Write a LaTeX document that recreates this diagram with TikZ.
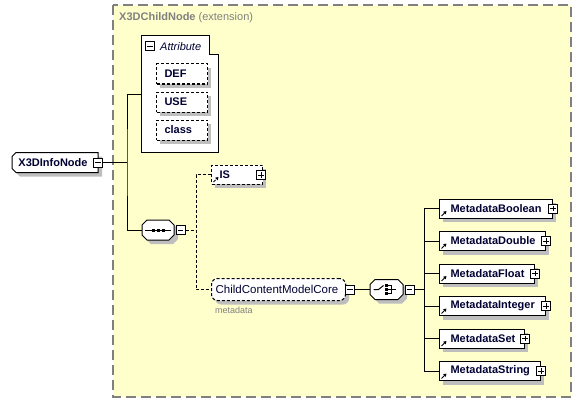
\documentclass[tikz,border=0pt]{standalone}
\usepackage{fontspec}
\setmainfont{Liberation Sans}
\usetikzlibrary{arrows.meta}
\definecolor{extfill}{HTML}{FFFFCC}
\definecolor{extline}{HTML}{808080}
\definecolor{txt}{HTML}{000033}
\definecolor{graytxt}{HTML}{808080}
\definecolor{shadowgray}{RGB}{190,190,190}
% octagon path: x1 y1 x2 y2 c
\newcommand\octpath[5]{(#1+#5,#2) -- (#3-#5,#2) -- (#3,#2+#5) -- (#3,#4-#5) -- (#3-#5,#4) -- (#1+#5,#4) -- (#1,#4-#5) -- (#1,#2+#5) -- cycle}
\newcommand\leftchamfpath[5]{(#1+#5,#2) -- (#3,#2) -- (#3,#4) -- (#1+#5,#4) -- (#1,#4-#5) -- (#1,#2+#5) -- cycle}
% shadow rectangle offset by 4 right and 4 down: x1 y1 x2 y2
\newcommand\shadowrect[4]{\fill[shadowgray] (#1+4,#2+4) rectangle (#3+4,#4+4);}
\tikzset{
  boldfont/.style={font=\fontsize{11}{13}\selectfont\bfseries, text=txt},
  plainfont/.style={font=\fontsize{11.5}{13}\selectfont, text=txt},
  elembox/.style={draw, fill=white, line width=1pt, minimum height=19, inner ysep=0, anchor=west, boldfont, align=left, inner xsep=11},
  refglyph/.style={path picture={\draw[line width=1pt,-{Triangle[length=3pt,width=3.5pt]}] ([xshift=2pt,yshift=2pt]path picture bounding box.south west) -- ++(5pt,5pt);}},
  dashedline/.style={dash pattern=on 3pt off 2pt},
  attbox/.style={draw, fill=white, line width=1pt, dashedline, minimum height=20, minimum width=51, inner ysep=0, anchor=west, boldfont, align=left, text width=35, inner xsep=8},
  pmbox/.style={draw, fill=white, line width=1pt, minimum size=9, inner sep=0},
  minusbox/.style={pmbox, path picture={\draw[line width=1pt] ([xshift=1.8pt]path picture bounding box.west) -- ([xshift=-1.8pt]path picture bounding box.east);}},
  plusbox/.style={pmbox, path picture={\draw[line width=1pt] ([xshift=1.8pt]path picture bounding box.west) -- ([xshift=-1.8pt]path picture bounding box.east) ([yshift=-1.8pt]path picture bounding box.north) -- ([yshift=1.8pt]path picture bounding box.south);}},
  shapeline/.style={draw, fill=white, line width=1pt},
  holder/.style={inner sep=0, outer sep=0},
  conn/.style={line width=1pt},
  dconn/.style={line width=1pt, dashedline},
}
\begin{document}
\begin{tikzpicture}[x=1pt,y=-1pt]
\useasboundingbox (0,0) rectangle (581,404);
% extension box
\draw[extline, fill=extfill, line width=1.3pt, dash pattern=on 10pt off 5pt] (113,5) rectangle (571,397);
\node[anchor=west, inner sep=0, text=graytxt, font=\fontsize{11}{13}\selectfont] (ext) at (119,17.5) {\textbf{X3DChildNode} (extension)};

% Attribute group (drawn before the shadows of its children)
\draw[line width=1pt, fill=white] (141,36) -- (209,36) -- (209,55) -- (218,55) -- (218,152) -- (141,152) -- cycle;
\node[minusbox] (attm) at (150,46.5) {};
\node[anchor=west, inner sep=0, font=\fontsize{11}{13}\selectfont\itshape, text=txt] (atttitle) at (160,47) {Attribute};
\coordinate (attin) at (141,94);

% ---- shadows ----
\fill[shadowgray, shift={(4,4)}] \leftchamfpath{12}{152.5}{98}{172.5}{4};
\shadowrect{156}{64}{207}{84}
\shadowrect{156}{92}{207}{112}
\shadowrect{156}{120}{207}{140}
\fill[shadowgray, shift={(4,4)}] \octpath{142}{220}{174}{240}{5};
\fill[shadowgray, shift={(4,4)}] \octpath{370}{279.5}{403}{299.5}{5};
\fill[shadowgray, rounded corners=6pt] (215,282.5) rectangle (349,304.5);
\shadowrect{211}{165}{262}{184}
\foreach \yy/\rx in {208.5/552, 241/545, 273.5/534, 306/545, 338.5/524, 371/540}
  {\shadowrect{439}{\yy-9.5}{\rx}{\yy+9.5}}

% attribute boxes
\node[attbox] (def) at (156,74) {DEF};
\node[attbox] (use) at (156,102) {USE};
\node[attbox] (cls) at (156,130) {class};

% root element
\path[shapeline] \leftchamfpath{12}{152.5}{98}{172.5}{4};
\node[holder, minimum width=86, minimum height=20, boldfont, anchor=west] (root) at (12,162.5) {X3DInfoNode\hspace*{4pt}};
\node[minusbox] (rootm) at (98,162.5) {};

% sequence
\path[shapeline] \octpath{142}{220}{174}{240}{5};
\node[holder, minimum width=32, minimum height=20] (seq) at (158,230) {};
\node[minusbox] (seqm) at (180.5,230) {};
\draw[line width=1pt] ([xshift=-13pt]seq.center) -- ([xshift=13pt]seq.center);
\foreach \dx in {-5,0,5} \fill ([xshift=\dx pt]seq.center) +(-1.5pt,-1.5pt) rectangle +(1.5pt,1.5pt);

% trunk from root
\coordinate (j1) at (127,162.5);
\draw[conn] (rootm.east) -- (j1);
\draw[conn] (attin) -| (j1) |- (seq.west);

% IS element
\node[elembox, dashedline, refglyph, minimum width=51, text width=35, inner xsep=8] (is) at (211,174.5) {IS};
\node[plusbox] (isp) at (261,175) {};

% ChildContentModelCore group
\node[draw, fill=white, rounded corners=6pt, line width=1pt, dashedline, minimum width=134, minimum height=22, inner sep=0, anchor=west, plainfont] (ccmc) at (211,289.5) {ChildContentModelCore\hspace*{3pt}};
\node[minusbox] (ccmcm) at (350,289.5) {};
\node[anchor=north west, inner sep=0, text=graytxt, font=\fontsize{9}{10}\selectfont] (meta) at (215,307) {metadata};

\coordinate (j2) at (196,230);
\draw[dconn] (seqm.east) -- (j2);
\draw[dconn] (is.west) -| (j2) |- (ccmc.west);

% choice
\path[shapeline] \octpath{370}{279.5}{403}{299.5}{5};
\node[holder, minimum width=33, minimum height=20] (cho) at (386.5,289.5) {};
\node[minusbox] (chom) at (409.5,289.5) {};
\draw[conn] (ccmcm.east) -- (cho.west);
\begin{scope}[line width=1pt]
\draw ([xshift=-13pt]cho.center) -- ([xshift=-8pt]cho.center) -- ([xshift=-3pt,yshift=4pt]cho.center);
\foreach \dy in {-4,0,4} \fill ([xshift=0pt,yshift=\dy pt]cho.center) +(-1.5pt,-1.5pt) rectangle +(1.5pt,1.5pt);
\draw ([xshift=1pt,yshift=4pt]cho.center) -- ([xshift=4.5pt,yshift=4pt]cho.center) -- ([xshift=4.5pt,yshift=-4pt]cho.center) -- ([xshift=1pt,yshift=-4pt]cho.center);
\draw ([xshift=1pt]cho.center) -- ([xshift=9pt]cho.center);
\end{scope}
\coordinate (j3) at (424,289.5);
\draw[conn] (chom.east) -- (j3);

% metadata elements
\foreach \nm/\txt/\yy/\rx in {mb/MetadataBoolean/208.5/552, md/MetadataDouble/241/545, mf/MetadataFloat/273.5/534, mi/MetadataInteger/306/545, ms/MetadataSet/338.5/524, mstr/MetadataString/371/540} {
  \pgfmathsetmacro{\w}{\rx-439}
  \pgfmathsetmacro{\tw}{\w-22}
  \node[elembox, refglyph, minimum width=\w, text width=\tw] (\nm) at (439,\yy) {\txt};
  \node[plusbox] (\nm p) at (\nm.east) {};
  \draw[conn] (j3 |- \nm.west) -- (\nm.west);
}
\draw[conn] (j3 |- mb.west) -- (j3 |- mstr.west);
\end{tikzpicture}
\end{document}
